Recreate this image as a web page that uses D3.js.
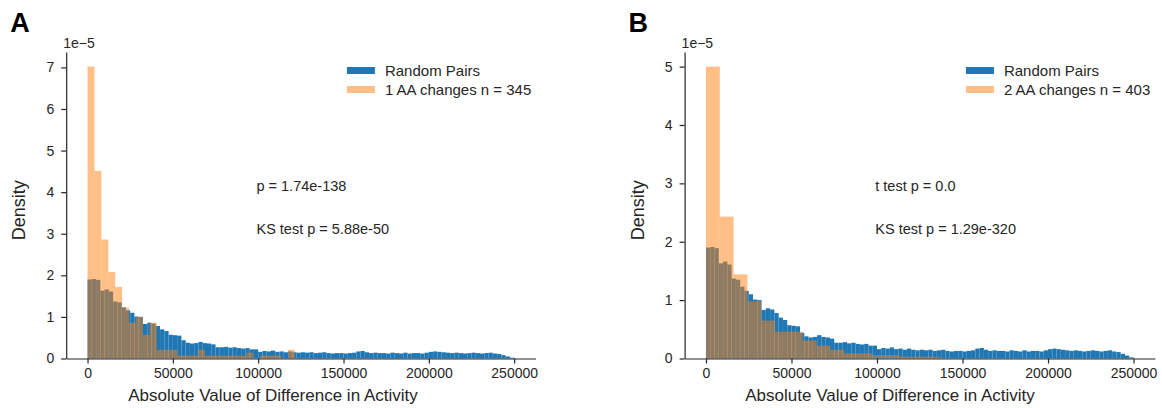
<!DOCTYPE html>
<html>
<head>
<meta charset="utf-8">
<script src="https://cdn.jsdelivr.net/npm/d3@7"></script>
<style>
  body { margin: 0; background: #fff; }
  svg { font-family: "Liberation Sans", Arial, sans-serif; }
  .axis path, .axis line { stroke: #262626; stroke-width: 1.2; }
  .axis text { fill: #262626; font-size: 14px; }
</style>
</head>
<body>
<div id="chart"></div>
<script>
// density values in units of 1e-5

// random pairs, 100 bins of 2500 starting at 0
var randomPairs = [
  1.90, 1.91, 1.89, 1.63, 1.66, 1.61, 1.37, 1.35, 1.23, 1.16,
  1.10, 1.01, 1.00, 0.83, 0.86, 0.84, 0.78, 0.70, 0.66, 0.57,
  0.56, 0.55, 0.44, 0.38, 0.36, 0.37, 0.40, 0.37, 0.36, 0.34,
  0.27, 0.27, 0.28, 0.26, 0.27, 0.25, 0.24, 0.25, 0.22, 0.22,
  0.16, 0.18, 0.17, 0.19, 0.16, 0.17, 0.15, 0.17, 0.15, 0.14,
  0.15, 0.14, 0.15, 0.13, 0.14, 0.15, 0.13, 0.12, 0.13, 0.13,
  0.12, 0.13, 0.14, 0.17, 0.18, 0.15, 0.13, 0.14, 0.13, 0.13,
  0.12, 0.14, 0.13, 0.12, 0.14, 0.12, 0.13, 0.13, 0.12, 0.14,
  0.16, 0.17, 0.16, 0.15, 0.14, 0.13, 0.14, 0.13, 0.12, 0.13,
  0.14, 0.13, 0.12, 0.13, 0.14, 0.12, 0.11, 0.08, 0.05, 0.02
];
var randomBinWidth = 2500;

// 1 AA changes (n = 345), bins of 4050
var oneAA = [
  7.02, 4.51, 2.86, 2.08, 1.72, 1.22, 0.86, 1.00, 0.57, 0.86,
  0.21, 0.21, 0.21, 0.07, 0.07, 0.07, 0.21, 0.07, 0.07, 0.07,
  0.07, 0.07, 0.07, 0.14, 0.00, 0.07, 0.07, 0.07, 0.00, 0.21
];
var oneAABinWidth = 4050;

// 2 AA changes (n = 403), bins of 8080
var twoAA = [
  5.00, 2.43, 1.44, 0.98, 0.65, 0.46, 0.46, 0.31, 0.22, 0.15,
  0.09, 0.09, 0.06, 0.06, 0.03, 0.03, 0.03
];
var twoAABinWidth = 8080;

var xTicks = [0, 50000, 100000, 150000, 200000, 250000];
var yTicksA = [0, 1, 2, 3, 4, 5, 6, 7];
var yTicksB = [0, 1, 2, 3, 4, 5];

var seriesNames = ["Random Pairs", "1 AA changes n = 345", "2 AA changes n = 403"];
var statsA = ["p = 1.74e-138", "KS test p = 5.88e-50"];
var statsB = ["t test p = 0.0", "KS test p = 1.29e-320"];

var blue = "#1f77b4";
var orange = "#ff7f0e";

// svg container
var svgWidth = 1162;
var svgHeight = 408;

var svg = d3.select("#chart").append("svg")
  .attr("width", svgWidth)
  .attr("height", svgHeight);

// make bin objects from a list of heights
function toBins(values, width) {
  return values.map(function(v, i) {
    return { x0: i * width, x1: (i + 1) * width, v: v };
  });
}

function drawPanel(p) {
  var xScale = d3.scaleLinear()
    .domain([-12500, 262500])
    .range([p.left, p.right]);

  var yScale = d3.scaleLinear()
    .domain([0, p.yMax])
    .range([p.bottom, p.top]);

  var g = svg.append("g");

  // random pairs first, then the overlay
  g.append("g").selectAll("rect")
    .data(toBins(randomPairs, randomBinWidth))
    .enter()
    .append("rect")
    .attr("x", d => xScale(d.x0))
    .attr("width", d => xScale(d.x1) - xScale(d.x0))
    .attr("y", d => yScale(d.v))
    .attr("height", d => yScale(0) - yScale(d.v))
    .attr("fill", blue);

  g.append("g").selectAll("rect")
    .data(toBins(p.values, p.binWidth))
    .enter()
    .append("rect")
    .attr("x", d => xScale(d.x0))
    .attr("width", d => xScale(d.x1) - xScale(d.x0))
    .attr("y", d => yScale(d.v))
    .attr("height", d => yScale(0) - yScale(d.v))
    .attr("fill", orange)
    .attr("fill-opacity", 0.5);

  // axes
  g.append("g")
    .attr("class", "axis")
    .attr("transform", `translate(0, ${p.bottom})`)
    .call(d3.axisBottom(xScale).tickValues(xTicks).tickFormat(d3.format("d"))
      .tickSize(5).tickSizeOuter(0).tickPadding(5));

  g.append("g")
    .attr("class", "axis")
    .attr("transform", `translate(${p.left}, 0)`)
    .call(d3.axisLeft(yScale).tickValues(p.yTicks).tickFormat(d3.format("d"))
      .tickSize(5).tickSizeOuter(0).tickPadding(7));

  // offset text
  g.append("text")
    .attr("x", p.left - 3)
    .attr("y", p.top - 4)
    .attr("font-size", 14)
    .attr("fill", "#262626")
    .text("1e\u22125");

  // axis labels
  g.append("text")
    .attr("x", p.xLabelX)
    .attr("y", 401)
    .attr("text-anchor", "middle")
    .attr("font-size", 17)
    .attr("fill", "#262626")
    .text("Absolute Value of Difference in Activity");

  g.append("text")
    .attr("transform", `translate(${p.left - 41}, ${(p.top + p.bottom) / 2 + 5}) rotate(-90)`)
    .attr("text-anchor", "middle")
    .attr("font-size", 18)
    .attr("fill", "#262626")
    .text("Density");

  // panel letter
  g.append("text")
    .attr("x", p.left - 56)
    .attr("y", 32)
    .attr("font-size", 27)
    .attr("font-weight", "bold")
    .attr("fill", "#000")
    .text(p.letter);

  // stats text
  g.selectAll(".stat")
    .data(p.stats)
    .enter()
    .append("text")
    .attr("x", xScale(99000))
    .attr("y", (d, i) => 191 + i * 43)
    .attr("font-size", 14.5)
    .attr("fill", "#262626")
    .text(d => d);

  // legend
  var legend = g.append("g")
    .attr("transform", `translate(${xScale(152000)}, 67)`);

  var items = [
    { name: seriesNames[0], color: blue, opacity: 1 },
    { name: p.name, color: orange, opacity: 0.5 }
  ];

  var rows = legend.selectAll("g")
    .data(items)
    .enter()
    .append("g")
    .attr("transform", (d, i) => `translate(0, ${i * 19})`);

  rows.append("rect")
    .attr("width", 28)
    .attr("height", 7)
    .attr("fill", d => d.color)
    .attr("fill-opacity", d => d.opacity);

  rows.append("text")
    .attr("x", 38)
    .attr("y", 9)
    .attr("font-size", 15)
    .attr("fill", "#262626")
    .text(d => d.name);
}

drawPanel({
  letter: "A", left: 66.2, right: 535.5, top: 52, bottom: 358.5,
  yMax: 7.37, yTicks: yTicksA, values: oneAA, binWidth: oneAABinWidth,
  name: seriesNames[1], stats: statsA, xLabelX: 273
});

drawPanel({
  letter: "B", left: 684.6, right: 1154.9, top: 52, bottom: 358.5,
  yMax: 5.25, yTicks: yTicksB, values: twoAA, binWidth: twoAABinWidth,
  name: seriesNames[2], stats: statsB, xLabelX: 890
});
</script>
</body>
</html>
